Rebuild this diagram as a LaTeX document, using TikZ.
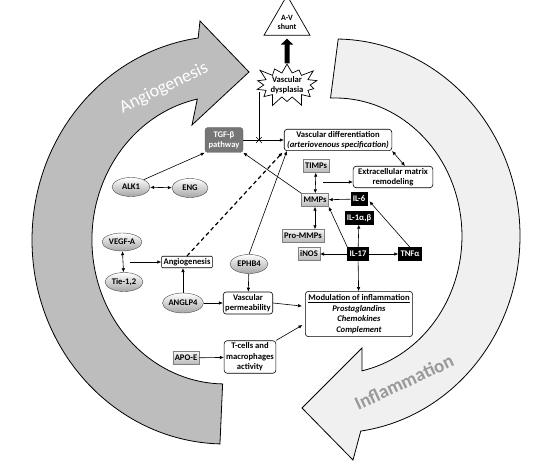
\documentclass[tikz,border=0pt]{standalone}
\usepackage{fontspec}
\setmainfont{Carlito}
\usetikzlibrary{
    arrows.meta,
    shapes.geometric,
    shapes.symbols,
    shapes.misc
}
\definecolor{angiogray}{HTML}{BDBDBD}
\definecolor{inflgray}{HTML}{F0F0F0}
\definecolor{tgfgray}{HTML}{767676}

\begin{document}
\begin{tikzpicture}[x=1pt,y=-1pt,
    font=\fontsize{8.6}{10}\selectfont\bfseries,
    link/.style={-{Latex[length=4pt,width=3.5pt]},line width=0.6pt},
    both/.style={{Latex[length=4pt,width=3.5pt]}-{Latex[length=4pt,width=3.5pt]},line width=0.6pt},
    process/.style={draw,rounded corners=3pt,fill=white,align=center,inner xsep=3pt,inner ysep=2pt,line width=0.6pt},
    genebox/.style={draw=black!50,top color=black!4,bottom color=black!28,inner sep=2pt,minimum height=13pt},
    protein/.style={ellipse,draw=black!70,top color=white,bottom color=black!35,minimum width=38pt,minimum height=19pt,inner sep=0pt},
    cytokine/.style={draw=black,fill=black,text=white,inner sep=2pt,minimum height=13pt}
]
\useasboundingbox (0,0) rectangle (554,465);

% Big arrows
\draw[line width=0.8pt,fill=angiogray] (225,240) ++(91.5:193 and 204)
    arc[start angle=91.5,end angle=262,x radius=193,y radius=204]
    -- (200,21) -- (249,72) -- (192,125) -- (197.3,99.1)
    arc[start angle=258,end angle=91,x radius=133,y radius=144] -- cycle;
\node[rotate=26,text=white,font=\fontsize{18}{18}\selectfont] at (164,88) {Angiogenesis};

\draw[line width=0.8pt,fill=inflgray] (335,236) ++(271:185 and 197)
    arc[start angle=271,end angle=442,x radius=185,y radius=197]
    -- (353,460) -- (302,408) -- (362,348) -- (362,370.8)
    arc[start angle=437.7,end angle=268,x radius=127,y radius=138] -- cycle;
\node[rotate=25,text=black!40,font=\fontsize{19}{19}\selectfont\bfseries] at (404,382) {Inflammation};

% Top
\node[draw,regular polygon,regular polygon sides=3,minimum size=44pt,inner sep=0pt,
    fill=white,line width=0.7pt,align=center,font=\fontsize{8}{9}\selectfont\bfseries] (shunt) at (287,22) {A-V\\shunt};
\coordinate (cross) at (259,140);
\coordinate (dysfoot) at (259,92);
\draw[line width=0.6pt] (cross) -- (dysfoot);
\node[starburst,draw,fill=white,starburst points=14,starburst point height=12pt,
    minimum width=62pt,minimum height=34pt,inner sep=0pt,align=center,line width=0.7pt] (dysplasia) at (287,85) {Vascular\\dysplasia};
\draw[line width=5pt,-{Triangle[length=6pt,width=12pt]},shorten >=3pt] (dysplasia.north) -- (shunt.south);

% TGF-beta and vascular differentiation
\node[draw=black!60,fill=tgfgray,text=white,rounded corners=3pt,align=center,
    minimum width=38pt,minimum height=25pt,inner sep=1pt] (tgf) at (224,140) {TGF-β\\pathway};
\node[process] (vdiff) at (338,140) {Vascular differentiation\\\textit{(arteriovenous specification)}};
\draw[link] (tgf) -- (vdiff);
\node[cross out,draw,minimum size=5pt,inner sep=0pt,line width=0.6pt] at (cross) {};

\node[process,inner xsep=5pt] (ecm) at (393,177) {Extracellular matrix\\remodeling};
\draw[both] (vdiff.south east) -- ([xshift=12pt]ecm.north);

% MMPs
\node[genebox] (timps) at (316,166) {TIMPs};
\node[genebox] (mmps) at (315,200) {MMPs};
\node[genebox] (prommps) at (303,236) {Pro-MMPs};
\node[genebox] (inos) at (309,254) {iNOS};
\draw[both] (timps) -- (mmps);
\draw[both] (mmps.south) -- (mmps.south |- prommps.north);
\coordinate (tmmid) at (323,182);
\draw[link] (tmmid) -- (tmmid -| ecm.west);
\draw[link] (mmps.north west) -- (tgf.south east);

% Cytokines
\node[cytokine] (il6) at (359,199) {IL-6};
\node[cytokine] (il1) at (359,218) {IL-1α,β};
\node[cytokine] (il17) at (358,254) {IL-17};
\node[cytokine] (tnf) at (410,254) {TNFα};
\draw[link] (il6) -- (mmps);
\draw[link] (il17) -- (inos);
\draw[link] (il17) -- (tnf);
\draw[link] (il17) -- (il1);
\draw[link] (il17.north west) -- (mmps.south east);
\draw[link,shorten >=3pt] (tnf.north) -- (il6.east);

\node[process,inner sep=3pt,font=\fontsize{8.6}{10.6}\selectfont\bfseries] (modul) at (359,314)
    {\underline{Modulation of inflammation}\\\textit{Prostaglandins}\\\textit{Chemokines}\\\textit{Complement}};
\draw[link] (il17) -- (modul);

% Left side
\node[protein] (alk) at (131,187) {ALK1};
\node[protein,minimum width=36pt] (eng) at (190,188) {ENG};
\draw[both] (alk) -- (eng);
\draw[link] (alk.30) -- (tgf.south west);

\node[protein,minimum width=40pt,minimum height=18pt] (vegf) at (122,242) {VEGF-A};
\node[protein] (tie) at (124,282) {Tie-1,2};
\draw[both] (vegf) -- (tie);
\node[process,rounded corners=1pt,inner sep=2pt] (angio) at (187,262) {Angiogenesis};
\coordinate (vtmid) at (130,262);
\draw[link] (vtmid) -- (angio);
\draw[link,dashed,line width=1.2pt,dash pattern=on 4pt off 3pt,shorten >=2pt] (angio.north) -- (vdiff.south west);

\node[protein,minimum width=41pt,minimum height=20pt] (anglp) at (183,303) {ANGLP4};
\node[protein] (ephb) at (249,264) {EPHB4};
\node[process,inner sep=2pt,font=\fontsize{8.6}{10.6}\selectfont\bfseries] (vperm) at (248,303) {Vascular\\permeability};
\draw[link] (anglp.north) -- (anglp.north |- angio.south);
\draw[link] (anglp) -- (vperm);
\draw[link] (ephb) -- (vperm);
\draw[link] (ephb.north) -- ([xshift=3pt]vdiff.south west);

\node[genebox] (apoe) at (186,358) {APO-E};
\node[process,inner sep=2pt,font=\fontsize{8.6}{10.6}\selectfont\bfseries] (tcell) at (250,357) {T-cells and\\macrophages\\activity};
\draw[link] (apoe) -- (tcell);
\draw[link,shorten >=3pt] (vperm.east) -- (modul.172);
\draw[link,shorten >=3pt] (tcell.north east) -- (modul.190);
\end{tikzpicture}
\end{document}
